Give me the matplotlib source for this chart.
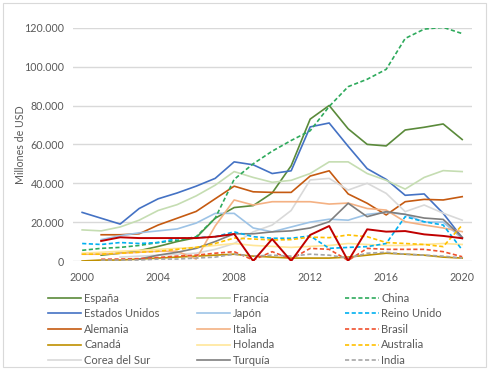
import matplotlib
matplotlib.use("Agg")
import matplotlib.pyplot as plt
import matplotlib.ticker as mticker
from matplotlib.patches import Rectangle
import numpy as np

nan = np.nan
years = list(range(2000, 2021))

espana = [nan, 3000, 4000, 5300, 7500, 10000, 12000, 22000, 27500, 28500, 35000, 49000, 73000, 80000, 68000, 60000, 59200, 67400, 68800, 70500, 62500]
francia = [16000, 15500, 17500, 21000, 26000, 29000, 33500, 39000, 46000, 43000, 40500, 41500, 45000, 51000, 51000, 45000, 41500, 37000, 43000, 46500, 46000]
china = [5500, 6500, 7000, 8000, 9500, 10500, 12500, 22000, 42000, 50000, 56500, 62000, 67000, 79500, 89700, 93500, 98600, 114500, 119300, 120200, 117000]
eeuu = [25000, 22000, 19000, 27000, 32000, 35000, 38500, 42500, 51000, 49500, 45000, 46400, 69000, 71000, 59000, 47500, 42000, 33800, 34500, 24500, 12000]
japon = [nan, 11000, 13000, 14500, 15500, 16500, 19500, 24500, 24500, 17000, 15000, 17500, 20000, 21500, 21000, 24000, 25000, 24000, 20000, 20000, 11500]
reino_unido = [9000, 8500, 9500, 9000, 9500, 11500, 12000, 12500, 15000, 12500, 11700, 11700, 12900, 6500, 7000, 7400, 9000, 22800, 20200, 18500, 5700]
alemania = [nan, 13500, 13500, 14000, 18500, 22000, 25500, 32000, 38500, 35600, 35300, 35300, 43700, 46400, 34500, 29700, 23700, 30500, 31700, 31400, 33100]
italia = [3500, 3500, 4000, 4500, 5000, 5000, 1000, 18000, 31400, 28800, 30500, 30500, 30500, 29300, 29800, 27000, 26200, 20200, 18500, 17000, 15100]
brasil = [nan, 900, 1000, 1200, 1800, 2500, 3000, 4000, 4800, 500, 4800, 1000, 6500, 6000, 300, 6500, 6000, 6000, 6000, 4800, 2200]
canada = [0, 500, 500, 1000, 1500, 2000, 2500, 3000, 3500, 2500, 2000, 1500, 1500, 1500, 2000, 3000, 4000, 3500, 3000, 2000, 1500]
holanda = [4000, 4500, 5000, 5500, 6000, 6500, 7000, 8000, 9000, 8000, 7500, 7000, 7500, 8000, 9000, 8500, 8000, 8000, 8500, 9000, 8500]
australia = [3500, 3500, 4000, 4500, 5000, 6000, 7000, 9000, 11800, 11300, 10800, 11000, 12300, 12000, 13400, 12500, 9500, 9000, 8500, 7400, 18500]
corea = [nan, nan, 2000, 2500, 3000, 3500, 4000, 6000, 9000, 15000, 18500, 26000, 41700, 42500, 36500, 40000, 34800, 25400, 28800, 24600, 21000]
turquia = [nan, nan, nan, 1000, 3000, 4500, 6500, 10000, 14000, 14000, 15000, 15500, 17000, 20200, 29700, 22800, 25400, 24000, 22100, 21400, 12200]
india = [nan, 500, 500, 500, 1000, 1000, 1500, 2000, 3500, 2500, 3000, 2500, 3500, 3000, 1500, 4000, 4500, 3500, 3000, 2500, 1500]
otro = [nan, 10300, 12200, 11800, 11800, 11800, 11800, 12500, 13900, 0, 11300, 0, 13400, 18000, 0, 16300, 15100, 15400, 13700, 12900, 11700]

# (label, data, color, dashed)
series = [
    ("España", espana, "#5A8A3A", False),
    ("Estados Unidos", eeuu, "#4472C4", False),
    ("Alemania", alemania, "#C55A11", False),
    ("Canadá", canada, "#BF9000", False),
    ("Corea del Sur", corea, "#D9D9D9", False),
    ("Francia", francia, "#C5DDB2", False),
    ("Japón", japon, "#9DC3E6", False),
    ("Italia", italia, "#F4B183", False),
    ("Holanda", holanda, "#FFE699", False),
    ("Turquía", turquia, "#7F7F7F", False),
    ("China", china, "#2EAA5C", True),
    ("Reino Unido", reino_unido, "#00B0F0", True),
    ("Brasil", brasil, "#F0502D", True),
    ("Australia", australia, "#FFC000", True),
    ("India", india, "#A5A5A5", True),
]

plt.rcParams['font.family'] = ['Lato', 'DejaVu Sans']
txt = "#595959"

fig = plt.figure(figsize=(5.01, 3.75), dpi=100)
ax = fig.add_axes([0.145, 0.304, 0.7965, 0.622])

handles = []
for label, data, color, dashed in series:
    ls = (0, (2.5, 1.5)) if dashed else "-"
    h, = ax.plot(years, data, color=color, lw=1.2, ls=ls, label=label)
    handles.append(h)
ax.plot(years, otro, color="#C00000", lw=1.4)

ax.set_xlim(1999.5, 2020.5)
ax.set_ylim(0, 120000)
ax.set_xticks(range(2000, 2021, 4))
ax.set_yticks(range(0, 120001, 20000))
ax.yaxis.set_major_formatter(mticker.FuncFormatter(lambda v, p: f"{int(v):,}".replace(",", ".")))
ax.grid(axis="y", color="#D9D9D9", lw=1)
ax.set_axisbelow(True)
for s in ax.spines.values():
    s.set_visible(False)
ax.tick_params(length=0, labelsize=7.7, colors=txt)
ax.tick_params(axis="y", pad=6)
ax.tick_params(axis="x", pad=8)
ax.set_ylabel("Millones de USD", fontsize=7.7, color=txt, labelpad=-1)

col_x = [0.0958, 0.393, 0.689]
for i, x in enumerate(col_x):
    fig.legend(handles=handles[i * 5:(i + 1) * 5], loc="upper left",
               bbox_to_anchor=(x, 0.22), frameon=False, fontsize=8,
               labelcolor=txt, handlelength=3.0, handletextpad=0.25,
               labelspacing=0.42, borderpad=0, borderaxespad=0)

fig.patches.append(Rectangle((3 / 501, 1 - 367 / 375), 483 / 501, 364 / 375,
                             transform=fig.transFigure, fill=False,
                             edgecolor="#D9D9D9", lw=0.8))

fig.savefig("out.png", dpi=100)
